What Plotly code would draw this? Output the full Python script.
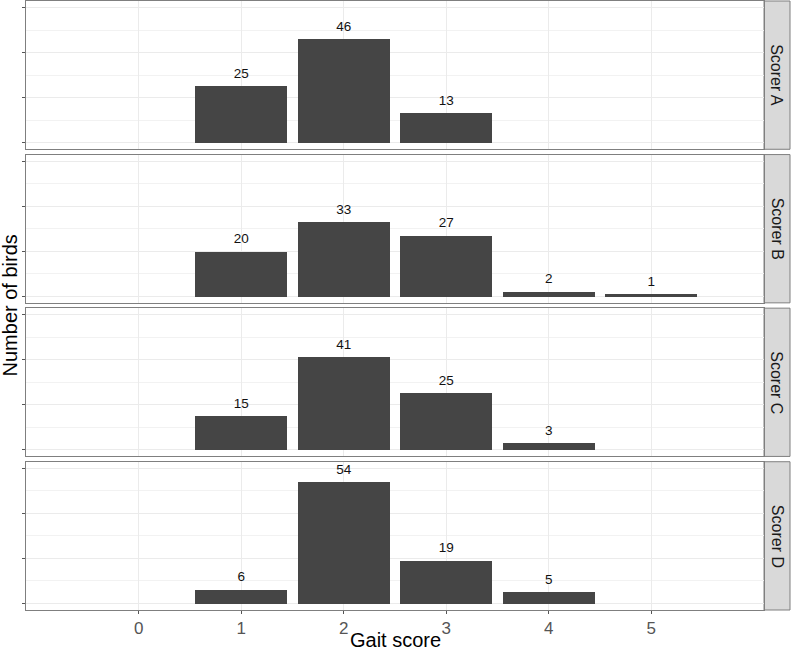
import plotly.graph_objects as go
from plotly.subplots import make_subplots

# Counts of birds per gait score, one list per scorer
scorers = ['Scorer A', 'Scorer B', 'Scorer C', 'Scorer D']
scores_a = [1, 2, 3]
counts_a = [25, 46, 13]
scores_b = [1, 2, 3, 4, 5]
counts_b = [20, 33, 27, 2, 1]
scores_c = [1, 2, 3, 4]
counts_c = [15, 41, 25, 3]
scores_d = [1, 2, 3, 4]
counts_d = [6, 54, 19, 5]
x_ticks = [0, 1, 2, 3, 4, 5]

panels = [(scores_a, counts_a), (scores_b, counts_b),
          (scores_c, counts_c), (scores_d, counts_d)]

bar_col = '#454545'
grid_col = '#EBEBEB'
border_col = '#7f7f7f'
font = 'Liberation Sans, Arial, sans-serif'
label_offset = 5.2  # data units above bar top, like vjust in ggplot
x_end = 0.966      # right edge of the panels; the strips sit beyond it

fig = make_subplots(rows=4, cols=1, shared_xaxes=True, vertical_spacing=0.0087)

for i, (xs, ys) in enumerate(panels, start=1):
    fig.add_trace(go.Bar(x=xs, y=ys, width=0.9, marker_color=bar_col,
                         marker_line_width=0, showlegend=False), row=i, col=1)
    fig.add_trace(go.Scatter(x=xs, y=[v + label_offset for v in ys],
                             text=[str(v) for v in ys], mode='text',
                             textposition='middle center',
                             textfont=dict(size=13.5, color='#111111', family=font),
                             showlegend=False), row=i, col=1)

    # facet strip on the right
    yref = 'y domain' if i == 1 else f'y{i} domain'
    fig.add_shape(type='rect', xref='paper', yref=yref, x0=x_end, x1=1.0,
                  y0=0, y1=1, fillcolor='#D9D9D9',
                  line=dict(color=border_col, width=1), layer='below')
    fig.add_annotation(text=scorers[i - 1], xref='paper', yref=yref,
                       x=(x_end + 1.0) / 2, y=0.5, showarrow=False,
                       xanchor='center', yanchor='middle', textangle=90,
                       font=dict(size=16, color='#1a1a1a', family=font))

fig.update_xaxes(range=[-1.1, 6.1], domain=[0, x_end], tickvals=x_ticks,
                 showgrid=True, gridcolor=grid_col, gridwidth=1, zeroline=False,
                 showline=True, linecolor=border_col, linewidth=1, mirror=True,
                 ticks='', showticklabels=False)
fig.update_xaxes(row=4, col=1, ticks='outside', ticklen=3, tickcolor='#555555',
                 showticklabels=True,
                 tickfont=dict(size=17, color='#555555', family=font))

fig.update_yaxes(range=[-3, 63], tickvals=[0, 20, 40, 60], showticklabels=False,
                 ticks='outside', ticklen=3, tickcolor='#555555',
                 showgrid=True, gridcolor=grid_col, gridwidth=1, zeroline=False,
                 showline=True, linecolor=border_col, linewidth=1, mirror=True,
                 minor=dict(tickvals=[10, 30, 50], showgrid=True,
                            gridcolor='#F2F2F2', gridwidth=0.6, ticks=''))

fig.add_annotation(text='Number of birds', xref='paper', yref='paper',
                   x=-0.021, y=0.5, showarrow=False, textangle=-90,
                   xanchor='center', yanchor='middle',
                   font=dict(size=20, color='#000000', family=font))
fig.add_annotation(text='Gait score', xref='paper', yref='paper',
                   x=x_end / 2, y=-0.049, showarrow=False,
                   xanchor='center', yanchor='middle',
                   font=dict(size=20, color='#000000', family=font))

fig.update_layout(width=791, height=653, bargap=0,
                  margin=dict(l=26, r=1, t=1, b=43),
                  plot_bgcolor='white', paper_bgcolor='white',
                  font=dict(family=font))

fig.write_html("out.html", config={'displayModeBar': False},
               post_script="document.body.style.margin='0px';")
